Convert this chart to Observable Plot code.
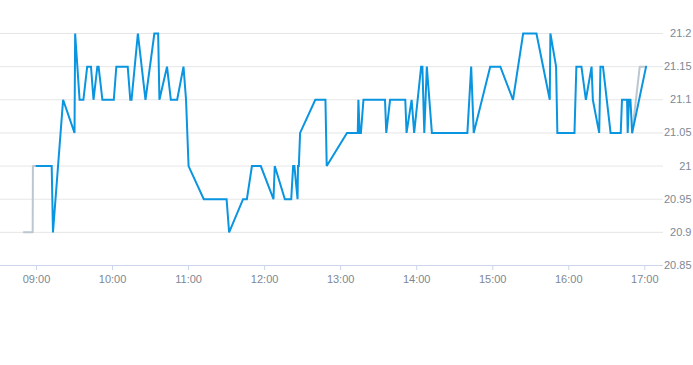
<!DOCTYPE html>
<html>
<head>
<meta charset="utf-8">
<script src="https://cdn.jsdelivr.net/npm/d3@7"></script>
<script src="https://cdn.jsdelivr.net/npm/@observablehq/plot@0.6"></script>
<style>
  html, body { margin: 0; padding: 0; background: #fff; }
  #chart svg { display: block; }
</style>
</head>
<body>
<div id="chart"></div>
<script>
// Main trading series (blue)
const blueTimes = [
  "09:00:00","09:12:00","09:13:00","09:21:00","09:30:00","09:30:30","09:34:00","09:37:00","09:40:00","09:43:00",
  "09:45:00","09:48:00","09:49:00","09:52:00","10:01:00","10:03:00","10:12:00","10:14:00","10:15:00","10:20:00",
  "10:26:00","10:33:00","10:36:00","10:37:00","10:43:00","10:46:00","10:51:00","10:56:00","10:58:00","11:00:00",
  "11:12:00","11:30:00","11:32:00","11:43:00","11:46:00","11:50:00","11:57:00","12:07:00","12:08:00","12:16:00",
  "12:21:00","12:22:30","12:23:30","12:26:00","12:26:20","12:27:00","12:28:00","12:40:00","12:48:00","12:49:00",
  "13:05:00","13:13:30","13:14:00","13:15:00","13:16:00","13:18:00","13:35:00","13:36:00","13:39:00","13:51:00",
  "13:52:00","13:56:00","13:58:00","14:03:30","14:04:30","14:06:00","14:08:00","14:12:00","14:40:00","14:43:00",
  "14:45:00","14:58:00","15:06:00","15:16:00","15:24:00","15:34:30","15:45:00","15:45:30","15:50:00","15:51:00",
  "16:04:30","16:06:00","16:10:00","16:13:30","16:18:00","16:19:00","16:24:00","16:25:00","16:27:00","16:33:00",
  "16:41:00","16:42:00","16:46:00","16:46:30","16:47:30","16:48:40","16:50:00","17:01:00"
];
const bluePrices = [
  21.0,21.0,20.9,21.1,21.05,21.2,21.1,21.1,21.15,21.15,
  21.1,21.15,21.15,21.1,21.1,21.15,21.15,21.1,21.1,21.2,
  21.1,21.2,21.2,21.1,21.15,21.1,21.1,21.15,21.1,21.0,
  20.95,20.95,20.9,20.95,20.95,21.0,21.0,20.95,21.0,20.95,
  20.95,21.0,21.0,20.95,21.0,21.0,21.05,21.1,21.1,21.0,
  21.05,21.05,21.1,21.05,21.05,21.1,21.1,21.05,21.1,21.1,
  21.05,21.1,21.05,21.15,21.15,21.05,21.15,21.05,21.05,21.15,
  21.05,21.15,21.15,21.1,21.2,21.2,21.1,21.2,21.15,21.05,
  21.05,21.15,21.15,21.1,21.15,21.1,21.05,21.15,21.15,21.05,
  21.05,21.1,21.1,21.05,21.1,21.1,21.05,21.15
];
// Secondary series (gray), visible before the open and after the close
const grayTimes = ["08:50:00","08:57:00","08:57:10","09:00:00"];
const grayPrices = [20.9, 20.9, 21.0, 21.0];
const grayTimes2 = ["16:50:00","16:56:00","17:01:00"];
const grayPrices2 = [21.05, 21.15, 21.15];

// Axis ticks
const yTicks = [20.85, 20.9, 20.95, 21.0, 21.05, 21.1, 21.15, 21.2];
const yTickLabels = ["20.85","20.9","20.95","21","21.05","21.1","21.15","21.2"];
const xTickHours = ["09:00","10:00","11:00","12:00","13:00","14:00","15:00","16:00","17:00"];

const toDate = s => {
  const [h, m, sec] = s.split(":").map(Number);
  return new Date(Date.UTC(2024, 0, 2, h, m, sec || 0));
};
const blue = blueTimes.map((t, i) => ({t: toDate(t), v: bluePrices[i]}));
const gray1 = grayTimes.map((t, i) => ({t: toDate(t), v: grayPrices[i]}));
const gray2 = grayTimes2.map((t, i) => ({t: toDate(t), v: grayPrices2[i]}));

const labelColor = "#7d8894";

const chart = Plot.plot({
  width: 693,
  height: 365,
  marginLeft: 0,
  marginRight: 30,
  marginTop: 33,
  marginBottom: 100,
  style: {fontFamily: "'Liberation Sans', Arial, sans-serif", fontSize: "11px", background: "#fff"},
  x: {
    type: "utc",
    domain: [toDate("08:31:36"), toDate("17:14:45")]
  },
  y: {domain: [20.85, 21.2]},
  marks: [
    Plot.gridY(yTicks.slice(1), {stroke: "#e6e6e6", strokeOpacity: 1, strokeWidth: 1}),
    Plot.ruleY([20.85], {stroke: "#ccd6eb", strokeWidth: 1}),
    Plot.axisY({
      anchor: "right",
      ticks: yTicks,
      tickFormat: (d, i) => yTickLabels[yTicks.indexOf(d)],
      tickSize: 0,
      tickPadding: 28,
      textAnchor: "end",
      fill: labelColor,
      label: null
    }),
    Plot.axisX({
      anchor: "bottom",
      ticks: xTickHours.map(toDate),
      tickFormat: d3.utcFormat("%H:%M"),
      tickSize: 5,
      tickPadding: 5,
      stroke: "#ccd6eb",
      fill: labelColor,
      label: null
    }),
    Plot.line(gray1, {x: "t", y: "v", stroke: "#bcc7cf", strokeWidth: 2}),
    Plot.line(gray2, {x: "t", y: "v", stroke: "#bcc7cf", strokeWidth: 2}),
    Plot.line(blue, {x: "t", y: "v", stroke: "#0a95e0", strokeWidth: 2, strokeLinejoin: "miter", strokeMiterlimit: 2})
  ]
});
document.getElementById("chart").appendChild(chart);
</script>
</body>
</html>
